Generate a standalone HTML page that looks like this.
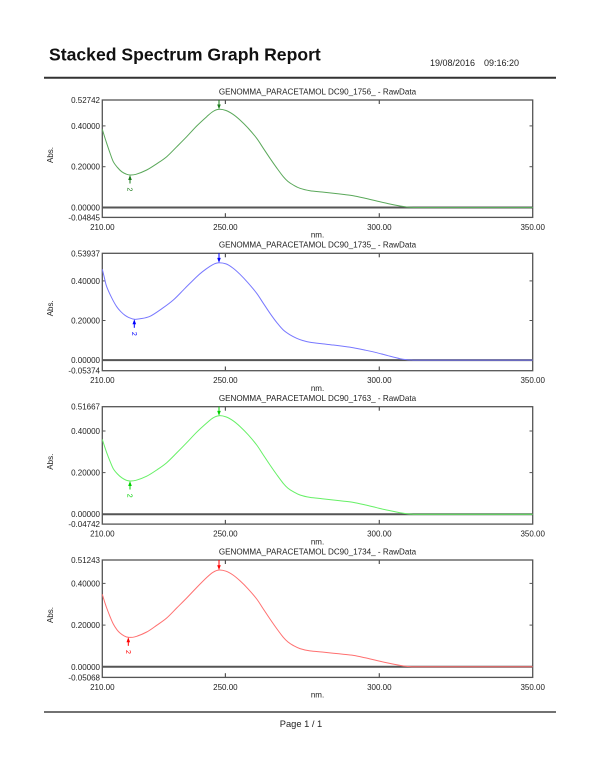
<!DOCTYPE html>
<html>
<head>
<meta charset="utf-8">
<style>
html,body{margin:0;padding:0;background:#fff;}
svg{display:block;}
text{font-family:"Liberation Sans",Arial,sans-serif;fill:#222;}
.t{font-size:8.1px;}
.tk{font-size:8px;}
</style>
</head>
<body>
<svg id="S" width="600" height="776" viewBox="0 0 600 776" xmlns="http://www.w3.org/2000/svg">
<rect width="600" height="776" fill="#fff"/>
<text x="49" y="60.7" style="font-size:17.6px;font-weight:bold;fill:#111">Stacked Spectrum Graph Report</text>
<text x="430" y="66" style="font-size:9px">19/08/2016</text>
<text x="484" y="66" style="font-size:9px">09:16:20</text>
<line x1="44" y1="77.7" x2="556" y2="77.7" stroke="#333" stroke-width="2"/>

<defs>
<g id="frame">
  <rect x="102.3" y="0" width="430.4" height="117.4" fill="none" stroke="#555" stroke-width="1.3"/>
  <line x1="225.4" y1="0" x2="225.4" y2="4" stroke="#555" stroke-width="1.2"/>
  <line x1="379.3" y1="0" x2="379.3" y2="4" stroke="#555" stroke-width="1.2"/>
  <line x1="225.4" y1="113.2" x2="225.4" y2="117.4" stroke="#555" stroke-width="1.2"/>
  <line x1="379.3" y1="113.2" x2="379.3" y2="117.4" stroke="#555" stroke-width="1.2"/>
  <text class="tk" x="102.3" y="129.8" text-anchor="middle">210.00</text>
  <text class="tk" x="225.4" y="129.8" text-anchor="middle">250.00</text>
  <text class="tk" x="379.3" y="129.8" text-anchor="middle">300.00</text>
  <text class="tk" x="532.7" y="129.8" text-anchor="middle">350.00</text>
  <text class="tk" x="317.5" y="137.6" text-anchor="middle">nm.</text>
  <text class="tk" transform="translate(52.8,55) rotate(-90)" text-anchor="middle">Abs.</text>
</g>
</defs>

<!-- Panel 1 -->
<g transform="translate(0,100)">
  <text class="t" x="317.5" y="-5.6" text-anchor="middle">GENOMMA_PARACETAMOL DC90_1756_ - RawData</text>
  <use href="#frame"/>
  <line x1="102.3" y1="107.5" x2="532.7" y2="107.5" stroke="#555" stroke-width="2"/>
  <line x1="102.3" y1="25.9" x2="105.5" y2="25.9" stroke="#555"/>
  <line x1="102.3" y1="66.7" x2="105.5" y2="66.7" stroke="#555"/>
  <line x1="529.5" y1="25.9" x2="532.7" y2="25.9" stroke="#555"/>
  <line x1="529.5" y1="66.7" x2="532.7" y2="66.7" stroke="#555"/>
  <text class="tk" x="100" y="3" text-anchor="end">0.52742</text>
  <text class="tk" x="100" y="28.9" text-anchor="end">0.40000</text>
  <text class="tk" x="100" y="69.7" text-anchor="end">0.20000</text>
  <text class="tk" x="100" y="110.5" text-anchor="end">0.00000</text>
  <text class="tk" x="100" y="120.4" text-anchor="end">-0.04845</text>
  <polyline class="c" fill="none" stroke="#5aa85a" stroke-width="1" stroke-linejoin="round" points="102.3,29.3 104.5,36.5 106.7,43.3 110,53 113.3,61.7 117.5,67.5 121.7,71.7 126,74 130,75 136,74.3 146.7,70 156.7,63.8 166.7,56.7 176.7,46.8 186.7,36.7 196.7,26 206.7,16.7 213,11.5 219,9.3 226,10.5 233,14.3 240,20 248,28 256.7,38.3 263,47.8 270,58.3 277,68.3 283.3,76.7 288,81.5 293.3,85 300,88.3 310,90.7 322,92 333.3,93.3 343,94.4 353.3,95.7 365,98.2 376.7,101 388,103.6 400,106 406.7,107 413,107.5 532.7,107.5"/>
  <g stroke="#1a7a1a" fill="#1a7a1a">
    <line x1="219" y1="0" x2="219" y2="6"/>
    <polygon points="217.2,4.5 220.8,4.5 219,9.3" stroke="none"/>
    <line x1="130" y1="79" x2="130" y2="83.5"/>
    <polygon points="128.2,80 131.8,80 130,75" stroke="none"/>
  </g>
  <text transform="translate(127.6,89.5) rotate(90)" style="font-size:7px;fill:#1a7a1a" text-anchor="middle">2</text>
</g>

<!-- Panel 2 -->
<g transform="translate(0,253.3)">
  <text class="t" x="317.5" y="-5.6" text-anchor="middle">GENOMMA_PARACETAMOL DC90_1735_ - RawData</text>
  <use href="#frame"/>
  <line x1="102.3" y1="106.8" x2="532.7" y2="106.8" stroke="#555" stroke-width="2"/>
  <line x1="102.3" y1="27.6" x2="105.5" y2="27.6" stroke="#555"/>
  <line x1="102.3" y1="67.2" x2="105.5" y2="67.2" stroke="#555"/>
  <line x1="529.5" y1="27.6" x2="532.7" y2="27.6" stroke="#555"/>
  <line x1="529.5" y1="67.2" x2="532.7" y2="67.2" stroke="#555"/>
  <text class="tk" x="100" y="3" text-anchor="end">0.53937</text>
  <text class="tk" x="100" y="30.6" text-anchor="end">0.40000</text>
  <text class="tk" x="100" y="70.2" text-anchor="end">0.20000</text>
  <text class="tk" x="100" y="109.8" text-anchor="end">0.00000</text>
  <text class="tk" x="100" y="120.4" text-anchor="end">-0.05374</text>
  <polyline class="c" fill="none" stroke="#7878ff" stroke-width="1" stroke-linejoin="round" points="102.3,16 104.5,25 106.7,33.4 111.7,44.5 116.7,53.4 121,58.5 125,62 129.5,64.5 134.3,66 140,65.5 150,63 161.7,55.5 173.3,46.7 185,35 196.7,23.4 203,18 210,13 214.5,10.5 219,9.4 226,10.6 233,14.8 240,21 248,29.5 256.7,40 263,49.5 270,60 277,69.5 283.3,76.7 290,81.5 296.7,85 303,87.3 310,89 322,90.5 333.3,91.7 343,92.9 353.3,94.4 365,96.8 376.7,99.4 388,102.4 400,105.4 406.7,106.4 413,106.8 532.7,106.8"/>
  <g stroke="#0000ff" fill="#0000ff">
    <line x1="219" y1="0" x2="219" y2="6"/>
    <polygon points="217.2,4.6 220.8,4.6 219,9.4" stroke="none"/>
    <line x1="134.3" y1="70" x2="134.3" y2="74.5"/>
    <polygon points="132.5,71 136.1,71 134.3,66" stroke="none"/>
  </g>
  <text transform="translate(131.9,80.5) rotate(90)" style="font-size:7px;fill:#0000ff" text-anchor="middle">2</text>
</g>

<!-- Panel 3 -->
<g transform="translate(0,406.7)">
  <text class="t" x="317.5" y="-5.6" text-anchor="middle">GENOMMA_PARACETAMOL DC90_1763_ - RawData</text>
  <use href="#frame"/>
  <line x1="102.3" y1="107.5" x2="532.7" y2="107.5" stroke="#555" stroke-width="2"/>
  <line x1="102.3" y1="24.3" x2="105.5" y2="24.3" stroke="#555"/>
  <line x1="102.3" y1="65.9" x2="105.5" y2="65.9" stroke="#555"/>
  <line x1="529.5" y1="24.3" x2="532.7" y2="24.3" stroke="#555"/>
  <line x1="529.5" y1="65.9" x2="532.7" y2="65.9" stroke="#555"/>
  <text class="tk" x="100" y="3" text-anchor="end">0.51667</text>
  <text class="tk" x="100" y="27.3" text-anchor="end">0.40000</text>
  <text class="tk" x="100" y="68.9" text-anchor="end">0.20000</text>
  <text class="tk" x="100" y="110.5" text-anchor="end">0.00000</text>
  <text class="tk" x="100" y="120.4" text-anchor="end">-0.04742</text>
  <polyline class="c" fill="none" stroke="#66f066" stroke-width="1" stroke-linejoin="round" points="102.3,32.7 104.5,39.5 106.7,46 110,54.5 113.3,62 117.5,67.3 121.7,71 126,73.4 130,74.3 136,73.6 146.7,69.5 156.7,63.3 166.7,56 176.7,46.2 186.7,36 196.7,25.5 206.7,16.3 213,11.2 219,9 226,10.2 233,14 240,19.8 248,27.9 256.7,38.3 263,47.8 270,58.3 277,68.3 283.3,76.7 288,81.5 293.3,85 300,88.3 310,90.7 322,92 333.3,93.3 343,94.4 353.3,95.7 365,98.2 376.7,101 388,103.6 400,106 406.7,107 413,107.5 532.7,107.5"/>
  <g stroke="#00d000" fill="#00d000">
    <line x1="219" y1="0" x2="219" y2="6"/>
    <polygon points="217.2,4.2 220.8,4.2 219,9" stroke="none"/>
    <line x1="130" y1="78" x2="130" y2="82.8"/>
    <polygon points="128.2,79.3 131.8,79.3 130,74.3" stroke="none"/>
  </g>
  <text transform="translate(127.6,89) rotate(90)" style="font-size:7px;fill:#00d000" text-anchor="middle">2</text>
</g>

<!-- Panel 4 -->
<g transform="translate(0,560)">
  <text class="t" x="317.5" y="-5.6" text-anchor="middle">GENOMMA_PARACETAMOL DC90_1734_ - RawData</text>
  <use href="#frame"/>
  <line x1="102.3" y1="106.8" x2="532.7" y2="106.8" stroke="#555" stroke-width="2"/>
  <line x1="102.3" y1="23.4" x2="105.5" y2="23.4" stroke="#555"/>
  <line x1="102.3" y1="65.1" x2="105.5" y2="65.1" stroke="#555"/>
  <line x1="529.5" y1="23.4" x2="532.7" y2="23.4" stroke="#555"/>
  <line x1="529.5" y1="65.1" x2="532.7" y2="65.1" stroke="#555"/>
  <text class="tk" x="100" y="3" text-anchor="end">0.51243</text>
  <text class="tk" x="100" y="26.4" text-anchor="end">0.40000</text>
  <text class="tk" x="100" y="68.1" text-anchor="end">0.20000</text>
  <text class="tk" x="100" y="109.8" text-anchor="end">0.00000</text>
  <text class="tk" x="100" y="120.4" text-anchor="end">-0.05068</text>
  <polyline class="c" fill="none" stroke="#ff7070" stroke-width="1" stroke-linejoin="round" points="102.3,34.3 104.5,41.5 106.7,48 110,56.5 113.3,64 117,69.8 120,73 124,75.8 128.3,77.3 135,76.8 146.7,72 156.7,65.3 166.7,58 176.7,48 186.7,38 196.7,27.5 206.7,17.5 213,12.3 219,10 226,11.2 233,15 240,20.8 248,28.8 256.7,39 263,48.5 270,59 277,69 283.3,77.3 288,82 293.3,85.5 300,88.6 310,90.9 322,92 333.3,93.2 343,94.2 353.3,95.4 365,97.8 376.7,100.5 388,103 400,105.4 406.7,106.4 413,106.8 532.7,106.8"/>
  <g stroke="#ff0000" fill="#ff0000">
    <line x1="219" y1="0" x2="219" y2="6"/>
    <polygon points="217.2,5.2 220.8,5.2 219,10" stroke="none"/>
    <line x1="128.3" y1="81" x2="128.3" y2="85.8"/>
    <polygon points="126.5,82.3 130.1,82.3 128.3,77.3" stroke="none"/>
  </g>
  <text transform="translate(125.9,92) rotate(90)" style="font-size:7px;fill:#ff0000" text-anchor="middle">2</text>
</g>

<line x1="44" y1="712" x2="556" y2="712" stroke="#444" stroke-width="1.5"/>
<text x="301" y="727" text-anchor="middle" style="font-size:9.3px">Page 1 / 1</text>
</svg>
<script>
(function(){
  try{
    var NS="http://www.w3.org/2000/svg";
    var pls=document.querySelectorAll("polyline.c");
    for(var k=0;k<pls.length;k++){
      var pl=pls[k];
      var raw=pl.getAttribute("points").trim().split(/\s+/);
      var P=[];
      for(var i=0;i<raw.length;i++){var a=raw[i].split(",");P.push([+a[0],+a[1]]);}
      var n=P.length-1; // last point is flat tail
      var d="M"+P[0][0]+","+P[0][1];
      for(var i=0;i<n-1;i++){
        var p0=P[i>0?i-1:0],p1=P[i],p2=P[i+1],p3=P[i+2<n?i+2:n-1];
        var c1x=p1[0]+(p2[0]-p0[0])/6,c1y=p1[1]+(p2[1]-p0[1])/6;
        var c2x=p2[0]-(p3[0]-p1[0])/6,c2y=p2[1]-(p3[1]-p1[1])/6;
        d+=" C"+c1x.toFixed(2)+","+c1y.toFixed(2)+" "+c2x.toFixed(2)+","+c2y.toFixed(2)+" "+p2[0]+","+p2[1];
      }
      d+=" L"+P[n][0]+","+P[n][1];
      var path=document.createElementNS(NS,"path");
      path.setAttribute("d",d);
      path.setAttribute("fill","none");
      path.setAttribute("stroke",pl.getAttribute("stroke"));
      path.setAttribute("stroke-width","1");
      path.setAttribute("stroke-linejoin","round");
      pl.parentNode.replaceChild(path,pl);
    }
  }catch(e){}
})();
</script>
</body>
</html>
